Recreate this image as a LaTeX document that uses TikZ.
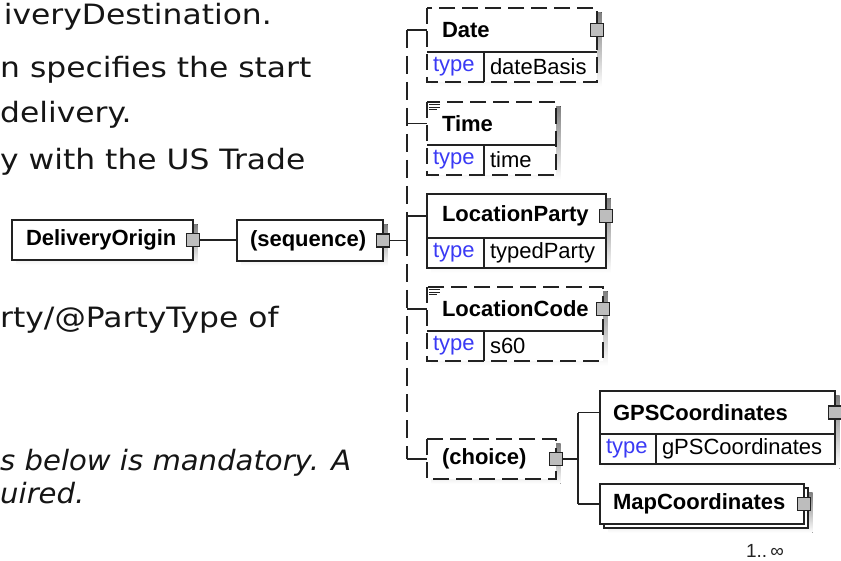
\documentclass[tikz,border=0pt]{standalone}
\usepackage{fontspec}
\setmainfont{Liberation Sans}
\newfontfamily\notefont[FakeStretch=1.12]{DejaVu Sans}
\newfontfamily\noteitfont[FakeStretch=1.04]{DejaVu Sans Oblique}
\usepackage{xcolor}
\usepackage{tikz}
\usetikzlibrary{calc,positioning,backgrounds}
\definecolor{boxline}{HTML}{222222}
\definecolor{shade}{HTML}{C4C4C4}
\definecolor{expandfill}{HTML}{BDBDBD}
\definecolor{typeblue}{HTML}{3A3AF5}
\definecolor{notetext}{HTML}{151515}

\tikzset{
  elem/.style={anchor=north west, draw=boxline, fill=white, line width=1.2pt, outer sep=0pt,
    inner ysep=0pt, inner xsep=15pt, align=left, font=\fontsize{22}{24}\selectfont\bfseries},
  optelem/.style={elem, draw=none},
  typecell/.style={anchor=north west, draw=boxline, fill=white, line width=1.2pt, outer sep=0pt,
    inner ysep=0pt, inner xsep=6pt, minimum height=30pt, align=left, font=\fontsize{22}{24}\selectfont},
  opttype/.style={typecell, draw=none},
  expander/.style={draw=boxline, fill=expandfill, line width=1.1pt, minimum size=13pt, inner sep=0pt},
  optline/.style={draw=boxline, line width=1.2pt, dash pattern=on 16pt off 7pt},
  conn/.style={draw=boxline, line width=1.2pt},
  notes/.style={anchor=base west, inner sep=0pt, text=notetext, font=\fontsize{28}{30}\selectfont\notefont},
  itnotes/.style={notes, font=\fontsize{28}{30}\selectfont\noteitfont}
}

\begin{document}
\begin{tikzpicture}[x=1pt,y=-1pt]
\useasboundingbox (0,0) rectangle (841,561);
\clip (0,0) rectangle (841,561);

% Notes, cut off at the left edge
\node[notes, anchor=base east] (note1) at (272,25) {iveryDestination.};
\node[notes] (note2) at (0,78) {n specifies the start};
\node[notes] (note3) at (0,123) {delivery.};
\node[notes] (note4) at (0,170) {y with the US Trade};
\node[notes] (note5) at (0,328) {rty/@PartyType of};
\node[itnotes] (note6) at (0,470) {s below is mandatory. A};
\node[itnotes] (note7) at (0,503) {uired.};

% DeliveryOrigin
\node[elem, minimum height=40pt, inner xsep=14pt, text width=153pt] (origin) at (12,220) {DeliveryOrigin};
\node[expander] (originx) at (origin.east) {};

% (sequence)
\node[elem, minimum height=41pt, inner xsep=13pt, text width=120pt] (seq) at (237,220) {(sequence)};
\node[expander] (seqx) at (seq.east) {};

% Date (optional)
\node[optelem, minimum height=44pt, text width=140pt] (date) at (427,8) {Date};
\node[opttype, text width=45pt] (datetype) at (date.south west) {\textcolor{typeblue}{type}};
\node[opttype, text width=101pt] (dateval) at (datetype.north east) {dateBasis};
\draw[optline] (date.north west) rectangle (dateval.south east);
\draw[conn] (date.south west) -- (date.south east) (datetype.north east) -- (datetype.south east);
\node[expander] (datex) at (date.east) {};

% Time (optional, documented)
\node[optelem, minimum height=43pt, text width=99pt] (time) at (427,102) {Time};
\node[opttype, text width=45pt] (timetype) at (time.south west) {\textcolor{typeblue}{type}};
\node[opttype, text width=60pt] (timeval) at (timetype.north east) {time};
\draw[optline] (time.north west) rectangle (timeval.south east);
\draw[conn] (time.south west) -- (time.south east) (timetype.north east) -- (timetype.south east);
\foreach \w [count=\k] in {11,11,8}
  \draw[boxline, line width=0.7pt] ($(time.north west)+(2,0.5+2.2*\k)$) -- ++(\w,0);

% LocationParty
\node[elem, minimum height=44pt, text width=149pt] (locparty) at (427,194) {LocationParty};
\node[typecell, text width=45pt] (locpartytype) at (locparty.south west) {\textcolor{typeblue}{type}};
\node[typecell, text width=110pt] (locpartyval) at (locpartytype.north east) {typedParty};
\node[expander] (locpartyx) at (locparty.east) {};

% LocationCode (optional, documented)
\node[optelem, minimum height=44pt, text width=146pt] (loccode) at (427,287) {LocationCode};
\node[opttype, text width=45pt] (loccodetype) at (loccode.south west) {\textcolor{typeblue}{type}};
\node[opttype, text width=107pt] (loccodeval) at (loccodetype.north east) {s60};
\draw[optline] (loccode.north west) rectangle (loccodeval.south east);
\draw[conn] (loccode.south west) -- (loccode.south east) (loccodetype.north east) -- (loccodetype.south east);
\foreach \w [count=\k] in {11,11,8}
  \draw[boxline, line width=0.7pt] ($(loccode.north west)+(2,0.5+2.2*\k)$) -- ++(\w,0);
\node[expander] (loccodex) at (loccode.east) {};

% (choice) (optional)
\node[optelem, minimum height=40pt, text width=99pt] (choice) at (427,439) {(choice)};
\draw[optline] (choice.north west) rectangle (choice.south east);
\node[expander] (choicex) at (choice.east) {};

% GPSCoordinates
\node[elem, minimum height=43pt, inner xsep=13pt, text width=209pt] (gps) at (600,391) {GPSCoordinates};
\node[typecell, text width=44pt] (gpstype) at (gps.south west) {\textcolor{typeblue}{type}};
\node[typecell, text width=167pt] (gpsval) at (gpstype.north east) {gPSCoordinates};
\node[expander] (gpsx) at (gps.east) {};

% MapCoordinates (repeated)
\node[elem, minimum height=40pt, inner xsep=13pt, text width=178pt] (mapc) at (600,484) {MapCoordinates};
\node[expander] (mapcx) at (mapc.east) {};
\node[font=\fontsize{19}{21}\selectfont, text=boxline] (mapcmult) at (765,551) {1..\,∞};

% Background, shadows and the stacked copy
\begin{scope}[on background layer]
  \fill[white] (0,0) rectangle (841,561);
  \foreach \a/\b in {origin/origin, seq/seq, date/dateval, time/timeval, locparty/locpartyval,
      loccode/loccodeval, choice/choice, gps/gpsval}
    \fill[shade] ($(\a.north west)+(4.5,4.5)$) rectangle ($(\b.south east)+(4.5,4.5)$);
  \fill[shade] ($(mapc.north west)+(8.5,8.5)$) rectangle ($(mapc.south east)+(8.5,8.5)$);
  \filldraw[fill=white, draw=boxline, line width=1.2pt] ($(mapc.north west)+(4,4)$) rectangle ($(mapc.south east)+(4,4)$);
\end{scope}

% Connectors
\coordinate (bus) at ([xshift=17pt]seqx.east);
\coordinate (cbus) at ([xshift=15pt]choicex.east);
\draw[conn] (originx.east) -- (originx -| seq.west);
\draw[conn] (seqx.east) -- (bus);
\draw[conn, dash pattern=on 18pt off 8pt] (bus |- date.west) -- (bus |- choice.west);
\draw[conn] (bus) -- (bus |- locparty.west);
\foreach \n in {date,time,locparty,loccode,choice}
  \draw[conn] (bus |- \n.west) -- (\n.west);
\draw[conn] (choicex.east) -- (cbus);
\draw[conn] (cbus |- gps.west) -- (cbus |- mapc.west);
\foreach \n in {gps,mapc}
  \draw[conn] (cbus |- \n.west) -- (\n.west);

\end{tikzpicture}
\end{document}
